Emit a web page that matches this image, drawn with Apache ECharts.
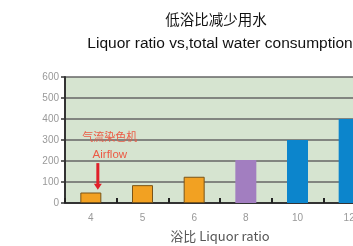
<!DOCTYPE html>
<html>
<head>
<meta charset="utf-8">
<script src="https://cdn.jsdelivr.net/npm/echarts@6/dist/echarts.min.js"></script>
<style>
  html, body { margin: 0; padding: 0; background: #fff; }
  .EC { width: 353px; height: 246px; }
</style>
</head>
<body>
<div class="EC"></div>
<script>
// liquor ratio categories and water consumption
const ratios = ['4', '5', '6', '8', '10', '12']
const water = [50, 85, 125, 205, 300, 400]
const barColors = ['#f2a122', '#f2a122', '#f2a122', '#a27ec0', '#0c85cc', '#0c85cc']

window.onload = () => {
    let EC = echarts.init(document.querySelector('.EC'))
    let option = {
        backgroundColor: '#fff',
        textStyle: { fontFamily: 'Liberation Sans, Noto Sans CJK SC' },
        title: [{
            text: '低浴比减少用水',
            left: 211,
            textAlign: 'center',
            top: 7,
            textStyle: { fontSize: 14.5, fontWeight: 'normal', color: '#111', fontFamily: 'Noto Sans CJK SC' }
        }, {
            text: 'Liquor ratio vs,total water consumption',
            left: 215,
            textAlign: 'center',
            top: 31,
            textStyle: { fontSize: 15.5, fontWeight: 'normal', color: '#111', fontFamily: 'Liberation Sans' }
        }],
        grid: {
            left: 65,
            width: 310,
            top: 77,
            bottom: 43,
            outerBoundsMode: 'none',
            containLabel: false,
            show: true,
            backgroundColor: '#d6e4d0',
            borderWidth: 0
        },
        xAxis: {
            type: 'category',
            data: ratios,
            name: '浴比 Liquor ratio',
            nameLocation: 'middle',
            nameGap: 27,
            nameTextStyle: { color: '#555', fontSize: 13, fontFamily: 'Noto Sans CJK SC' },
            axisLine: { lineStyle: { color: '#333', width: 2 } },
            axisTick: { show: true, inside: true, length: 5, lineStyle: { color: '#222', width: 2 } },
            axisLabel: { color: '#999', fontSize: 10, margin: 10 }
        },
        yAxis: {
            type: 'value',
            min: 0,
            max: 600,
            interval: 100,
            axisLine: { show: true, lineStyle: { color: '#333', width: 2 } },
            axisTick: { show: true, length: 4, lineStyle: { color: '#333', width: 1.5 } },
            axisLabel: { color: '#999', fontSize: 10, margin: 6 },
            splitLine: { lineStyle: { color: '#666', width: 1.5 } }
        },
        series: [{
            type: 'bar',
            barWidth: 21,
            data: water.map((v, i) => ({
                value: v,
                itemStyle: {
                    color: barColors[i],
                    borderColor: i < 3 ? '#7a5418' : barColors[i],
                    borderWidth: i < 3 ? 1 : 0
                }
            }))
        }]
    }
    EC.setOption(option)

    // annotation: airflow dyeing machine arrow above first bar
    let x0 = EC.convertToPixel({ gridIndex: 0 }, [0, 0])[0]
    let yTop = EC.convertToPixel({ gridIndex: 0 }, [0, 190])[1]
    let yEnd = EC.convertToPixel({ gridIndex: 0 }, [0, water[0] + 13])[1]
    let yTxt1 = EC.convertToPixel({ gridIndex: 0 }, [0, 315])[1]
    let yTxt2 = EC.convertToPixel({ gridIndex: 0 }, [0, 230])[1]
    EC.setOption({
        graphic: [{
            type: 'text',
            x: x0 + 19, y: yTxt1,
            style: { text: '气流染色机', fill: '#ec5a44', fontSize: 11, align: 'center', verticalAlign: 'middle', fontFamily: 'Noto Sans CJK SC' }
        }, {
            type: 'text',
            x: x0 + 19, y: yTxt2,
            style: { text: 'Airflow', fill: '#ec5a44', fontSize: 11.5, align: 'center', verticalAlign: 'middle', fontFamily: 'Liberation Sans' }
        }, {
            type: 'line',
            shape: { x1: x0 + 7, y1: yTop, x2: x0 + 7, y2: yEnd - 5 },
            style: { stroke: '#e0202a', lineWidth: 3 }
        }, {
            type: 'polygon',
            shape: { points: [[x0 + 3, yEnd - 6], [x0 + 11, yEnd - 6], [x0 + 7, yEnd]] },
            style: { fill: '#e0202a' }
        }]
    })
}
</script>
</body>
</html>
